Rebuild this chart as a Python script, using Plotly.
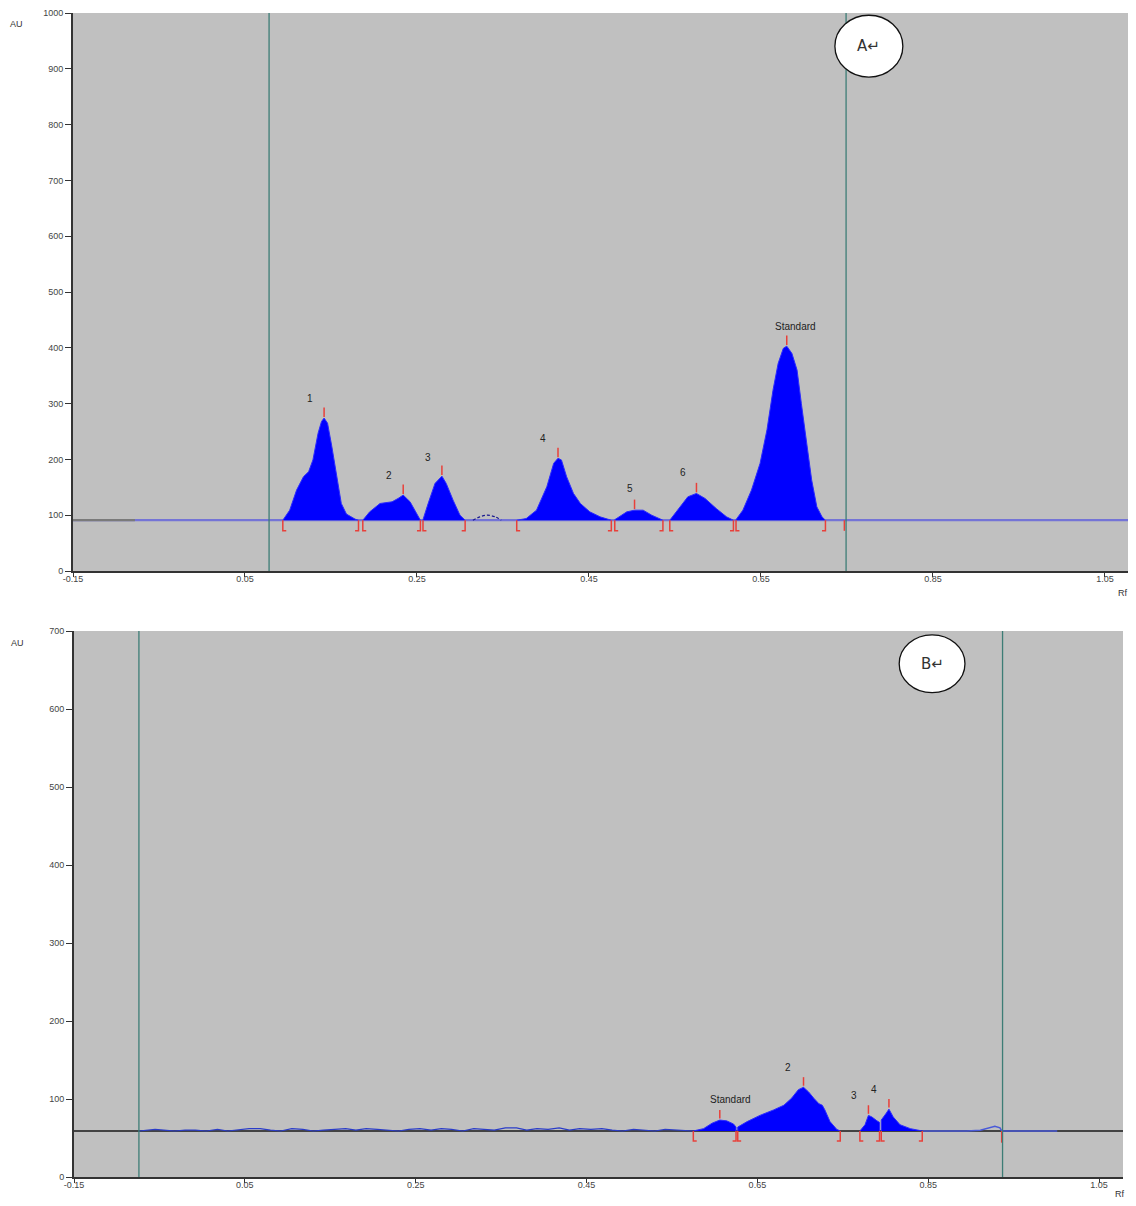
import plotly.graph_objects as go

# ---------------- Chart A (top) ----------------
A_BASE = 91
a1_rf = [0.094, 0.102, 0.110, 0.118, 0.124, 0.129, 0.135, 0.139, 0.142, 0.146, 0.151, 0.157, 0.162, 0.168, 0.178, 0.182]
a1_au = [91, 109, 145, 169, 178, 199, 247, 268, 274, 265, 223, 169, 121, 102, 93, 91]
a2_rf = [0.187, 0.195, 0.207, 0.221, 0.228, 0.234, 0.242, 0.250, 0.254]
a2_au = [91, 106, 121, 124, 130, 136, 124, 103, 92]
a3_rf = [0.257, 0.263, 0.271, 0.279, 0.284, 0.292, 0.300, 0.306]
a3_au = [92, 121, 157, 170, 157, 127, 100, 91]
a4_rf = [0.366, 0.377, 0.389, 0.401, 0.409, 0.414, 0.418, 0.424, 0.432, 0.440, 0.451, 0.463, 0.476]
a4_au = [91, 94, 109, 151, 193, 202, 199, 169, 139, 121, 106, 97, 91]
a5_rf = [0.480, 0.494, 0.503, 0.513, 0.523, 0.536]
a5_au = [92, 106, 109, 109, 100, 91]
a6_rf = [0.544, 0.556, 0.565, 0.575, 0.585, 0.598, 0.610, 0.618]
a6_au = [91, 115, 133, 139, 130, 112, 97, 91]
a7_rf = [0.621, 0.629, 0.639, 0.649, 0.657, 0.664, 0.670, 0.676, 0.680, 0.686, 0.692, 0.697, 0.703, 0.709, 0.715, 0.721, 0.725]
a7_au = [92, 109, 145, 193, 253, 324, 372, 399, 403, 390, 360, 300, 229, 163, 115, 97, 91]
a_bump_rf = [0.315, 0.323, 0.332, 0.341, 0.348]
a_bump_au = [91, 97, 100, 97, 91]
a_labels = ["1", "2", "3", "4", "5", "6", "Standard"]
a_label_rf = [0.126, 0.217, 0.263, 0.397, 0.498, 0.559, 0.690]
a_label_au = [310, 172, 204, 238, 147, 176, 439]
a_vlines = [0.078, 0.749]
a_extra_marks = [0.747]

# ---------------- Chart B (bottom) ----------------
B_BASE = 59
b1_rf = [0.575, 0.587, 0.597, 0.606, 0.614, 0.622, 0.625]
b1_au = [59, 62, 69, 73, 72, 68, 64]
b2_rf = [0.627, 0.638, 0.653, 0.669, 0.681, 0.690, 0.698, 0.704, 0.710, 0.716, 0.722, 0.726, 0.729, 0.735, 0.743, 0.747]
b2_au = [64, 71, 79, 86, 92, 101, 112, 115, 109, 101, 94, 92, 86, 71, 61, 59]
b3_rf = [0.770, 0.776, 0.780, 0.784, 0.790, 0.793]
b3_au = [59, 67, 79, 77, 72, 70]
b4_rf = [0.795, 0.801, 0.804, 0.809, 0.817, 0.829, 0.843]
b4_au = [73, 82, 87, 77, 67, 62, 59]
b_noise_rf = [-0.074, -0.062, -0.055, -0.045, -0.032, -0.020, -0.008, 0.005, 0.018, 0.030, 0.042, 0.055,
              0.068, 0.080, 0.092, 0.105, 0.118, 0.130, 0.142, 0.155, 0.168, 0.180, 0.192, 0.205, 0.218,
              0.230, 0.242, 0.255, 0.268, 0.280, 0.292, 0.305, 0.318, 0.330, 0.342, 0.355, 0.368, 0.380,
              0.392, 0.405, 0.418, 0.430, 0.442, 0.455, 0.468, 0.480, 0.492, 0.505, 0.518, 0.530, 0.542,
              0.555, 0.568, 0.575]
b_noise_au = [59, 60, 61, 60, 59, 60, 60, 59, 61, 59, 60, 62, 62, 60, 59, 62, 61, 59, 60, 61, 62, 60, 62,
              61, 60, 59, 61, 62, 60, 62, 61, 59, 62, 61, 60, 63, 63, 60, 62, 61, 63, 60, 62, 61, 62, 60,
              59, 61, 60, 59, 61, 60, 59, 59]
b_tail_rf = [0.843, 0.870, 0.895, 0.911, 0.919, 0.928, 0.934, 0.936, 0.960, 1.001]
b_tail_au = [59, 59, 59, 60, 62, 65, 63, 59, 59, 59]
b_labels = ["Standard", "2", "3", "4"]
b_label_rf = [0.618, 0.686, 0.763, 0.787]
b_label_au = [100, 140, 105, 112]
b_vlines = [-0.074, 0.937]
b_extra_marks = [0.936]

x_ticks = [-0.15, 0.05, 0.25, 0.45, 0.65, 0.85, 1.05]
x_tick_text = ["-0.15", "0.05", "0.25", "0.45", "0.65", "0.85", "1.05"]
XMIN, XMAX = -0.15, 1.078

BLUE = "#0000ff"
EDGE = "#2b2bff"
RED = "#e8403a"
TEAL = "#3d7d76"
FONT = "Liberation Sans"

# page body has an 8px default margin: build the figure to fit the remaining area
OFF = 8
W, H = 1136 - OFF, 1206 - 2 * OFF


def fx(px):
    return (px - OFF) / W


def fy(py):
    return 1 - (py - OFF) / H


fig = go.Figure()


def add_chart(xa, ya, base, peaks, tick_h, brk_h):
    for rf, au in peaks:
        px = [rf[0]] + list(rf) + [rf[-1]]
        py = [base] + list(au) + [base]
        fig.add_trace(go.Scatter(x=px, y=py, mode="lines", fill="toself", fillcolor=BLUE,
                                 line=dict(color=EDGE, width=1), xaxis=xa, yaxis=ya,
                                 hoverinfo="skip", showlegend=False))
    tx, ty, bx, by = [], [], [], []
    for rf, au in peaks:
        i = au.index(max(au))
        tx += [rf[i], rf[i], None]
        ty += [au[i] + 2, au[i] + tick_h, None]
        s, e = rf[0], rf[-1]
        bx += [s + 0.004, s, s, None, e - 0.004, e, e, None]
        by += [base - brk_h, base - brk_h, base, None, base - brk_h, base - brk_h, base, None]
    fig.add_trace(go.Scatter(x=tx, y=ty, mode="lines", line=dict(color=RED, width=1.5),
                             xaxis=xa, yaxis=ya, hoverinfo="skip", showlegend=False))
    fig.add_trace(go.Scatter(x=bx, y=by, mode="lines", line=dict(color=RED, width=1.5),
                             xaxis=xa, yaxis=ya, hoverinfo="skip", showlegend=False))


# --- baselines
fig.add_trace(go.Scatter(x=[XMIN, XMAX], y=[A_BASE, A_BASE], mode="lines",
                         line=dict(color="#7474d6", width=2.2), xaxis="x", yaxis="y",
                         hoverinfo="skip", showlegend=False))
fig.add_trace(go.Scatter(x=[XMIN, -0.078], y=[A_BASE, A_BASE], mode="lines",
                         line=dict(color="#7a7a7a", width=2.2), xaxis="x", yaxis="y",
                         hoverinfo="skip", showlegend=False))
fig.add_trace(go.Scatter(x=a_bump_rf, y=a_bump_au, mode="lines", line_shape="spline",
                         line=dict(color="#1a1a90", width=1.2, dash="3px,2px"), xaxis="x", yaxis="y",
                         hoverinfo="skip", showlegend=False))

fig.add_trace(go.Scatter(x=[XMIN, XMAX], y=[B_BASE, B_BASE], mode="lines",
                         line=dict(color="#1a1a1a", width=1.5), xaxis="x2", yaxis="y2",
                         hoverinfo="skip", showlegend=False))
fig.add_trace(go.Scatter(x=b_noise_rf, y=b_noise_au, mode="lines",
                         line=dict(color="#2a3cc8", width=1.2), xaxis="x2", yaxis="y2",
                         hoverinfo="skip", showlegend=False))
fig.add_trace(go.Scatter(x=b_tail_rf, y=b_tail_au, mode="lines",
                         line=dict(color="#4a5ad8", width=1.5), xaxis="x2", yaxis="y2",
                         hoverinfo="skip", showlegend=False))

add_chart("x", "y", A_BASE,
          [(a1_rf, a1_au), (a2_rf, a2_au), (a3_rf, a3_au), (a4_rf, a4_au),
           (a5_rf, a5_au), (a6_rf, a6_au), (a7_rf, a7_au)], 19, 19)
add_chart("x2", "y2", B_BASE,
          [(b1_rf, b1_au), (b2_rf, b2_au), (b3_rf, b3_au), (b4_rf, b4_au)], 13, 13)

for m in a_extra_marks:
    fig.add_shape(type="line", xref="x", yref="y", x0=m, x1=m, y0=A_BASE, y1=A_BASE - 19,
                  line=dict(color=RED, width=1.5))
for m in b_extra_marks:
    fig.add_shape(type="line", xref="x2", yref="y2", x0=m, x1=m, y0=B_BASE, y1=B_BASE - 15,
                  line=dict(color=RED, width=1.5))

for v in a_vlines:
    fig.add_shape(type="line", xref="x", yref="y", x0=v, x1=v, y0=0, y1=1000,
                  line=dict(color=TEAL, width=1.3), layer="above")
for v in b_vlines:
    fig.add_shape(type="line", xref="x2", yref="y2", x0=v, x1=v, y0=0, y1=700,
                  line=dict(color=TEAL, width=1.3), layer="above")

fig.add_shape(type="circle", xref="x", yref="y", x0=0.736, x1=0.815, y0=885, y1=996,
              fillcolor="white", line=dict(color="#111", width=1.3), layer="above")
fig.add_annotation(x=0.7755, y=940, xref="x", yref="y", text="A\u21b5", showarrow=False,
                   font=dict(family="DejaVu Sans", size=15, color="#333"))
fig.add_shape(type="circle", xref="x2", yref="y2", x0=0.816, x1=0.893, y0=621, y1=695,
              fillcolor="white", line=dict(color="#111", width=1.3), layer="above")
fig.add_annotation(x=0.8545, y=658, xref="x2", yref="y2", text="B\u21b5", showarrow=False,
                   font=dict(family="DejaVu Sans", size=15, color="#333"))

for t, x, y in zip(a_labels, a_label_rf, a_label_au):
    fig.add_annotation(x=x, y=y, xref="x", yref="y", text=t, showarrow=False,
                       font=dict(family=FONT, size=10, color="#222"))
for t, x, y in zip(b_labels, b_label_rf, b_label_au):
    fig.add_annotation(x=x, y=y, xref="x2", yref="y2", text=t, showarrow=False,
                       font=dict(family=FONT, size=10, color="#222"))

for xx, yy in [(16, 24), (17, 643)]:
    fig.add_annotation(x=fx(xx), y=fy(yy), xref="paper", yref="paper", text="AU",
                       xanchor="center", yanchor="middle",
                       showarrow=False, font=dict(family=FONT, size=9, color="#333"))
for xx, yy in [(1123, 593), (1120, 1194)]:
    fig.add_annotation(x=fx(xx), y=fy(yy), xref="paper", yref="paper", text="Rf",
                       xanchor="center", yanchor="middle",
                       showarrow=False, font=dict(family=FONT, size=9, color="#333"))

xcommon = dict(range=[XMIN, XMAX], tickvals=x_ticks, ticktext=x_tick_text, showgrid=False,
               zeroline=False, showline=True, linecolor="#333", linewidth=2, ticks="outside",
               ticklen=4, tickcolor="#333", automargin=False, ticklabelstandoff=-6,
               tickfont=dict(family=FONT, size=9, color="#444"))
ycommon = dict(dtick=100, showgrid=False, zeroline=False, showline=True, linecolor="#333",
               linewidth=2, ticks="outside", ticklen=6, tickcolor="#333", automargin=False,
               tickfont=dict(family=FONT, size=9, color="#444"))

fig.update_layout(
    width=W, height=H,
    margin=dict(l=0, r=0, t=0, b=0, autoexpand=False),
    paper_bgcolor="white", plot_bgcolor="#c0c0c0",
    showlegend=False,
    xaxis=dict(domain=[fx(73), fx(1129)], anchor="y", **xcommon),
    yaxis=dict(domain=[fy(571), fy(13)], range=[0, 1000], anchor="x", **ycommon),
    xaxis2=dict(domain=[fx(74), fx(1123)], anchor="y2", **xcommon),
    yaxis2=dict(domain=[fy(1177), fy(631)], range=[0, 700], anchor="x2", **ycommon),
)

fig.write_html("out.html")
